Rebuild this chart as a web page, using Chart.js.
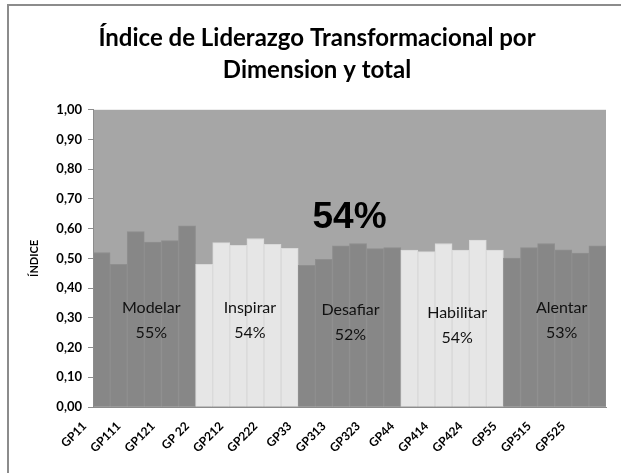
<!DOCTYPE html>
<html lang="es">
<head>
<meta charset="UTF-8">
<title>Índice de Liderazgo Transformacional</title>
<style>
body { margin: 0; background: #fff; }
#wrap { position: relative; width: 621px; height: 473px; overflow: hidden; }
#frame { position: absolute; left: 7px; top: 4px; width: 700px; height: 600px;
  border-left: 2px solid #8c8c8c; border-top: 2px solid #8c8c8c; }
canvas { position: absolute; left: 0; top: 0; }
</style>
<script src="https://cdn.jsdelivr.net/npm/chart.js@4/dist/chart.umd.min.js"></script>
</head>
<body>
<div id="wrap">
  <div id="frame"></div>
  <canvas id="chart" width="621" height="473"></canvas>
</div>
<script>
// item labels, 6 per dimension
const labels = [
  'GP11', 'GP16', 'GP111', 'GP116', 'GP121', 'GP126',
  'GP 22', 'GP27', 'GP212', 'GP217', 'GP222', 'GP227',
  'GP33', 'GP38', 'GP313', 'GP318', 'GP323', 'GP328',
  'GP44', 'GP49', 'GP414', 'GP419', 'GP424', 'GP429',
  'GP55', 'GP510', 'GP515', 'GP520', 'GP525', 'GP530'
];

// values
const modelar   = [0.52, 0.48, 0.59, 0.555, 0.56, 0.61];
const inspirar  = [0.48, 0.553, 0.544, 0.567, 0.547, 0.534];
const desafiar  = [0.477, 0.497, 0.542, 0.55, 0.533, 0.536];
const habilitar = [0.528, 0.523, 0.55, 0.528, 0.562, 0.528];
const alentar   = [0.501, 0.536, 0.55, 0.529, 0.518, 0.542];

const dimNames  = ['Modelar', 'Inspirar', 'Desafiar', 'Habilitar', 'Alentar'];
const dimScores = ['55%', '54%', '52%', '54%', '53%'];
const total = '54%';

const groups = [modelar, inspirar, desafiar, habilitar, alentar];
const groupColors = ['#878787', '#e6e6e6', '#878787', '#e6e6e6', '#878787'];
const groupBorders = ['#8f8f8f', '#d9d9d9', '#8f8f8f', '#d9d9d9', '#8f8f8f'];

const values = [];
const barColors = [];
const barBorders = [];
groups.forEach((g, i) => {
  g.forEach(v => {
    values.push(v);
    barColors.push(groupColors[i]);
    barBorders.push(groupBorders[i]);
  });
});

// gray plot background
const plotBg = {
  id: 'plotBg',
  beforeDraw(chart) {
    const a = chart.chartArea, ctx = chart.ctx;
    ctx.save();
    ctx.fillStyle = '#a6a6a6';
    ctx.fillRect(a.left, a.top, a.right - a.left, a.bottom - a.top);
    ctx.restore();
  }
};

// dimension names, scores and the total
const dimLabels = {
  id: 'dimLabels',
  afterDatasetsDraw(chart) {
    const ctx = chart.ctx, x = chart.scales.x, y = chart.scales.y;
    const levels = [0.335, 0.335, 0.328, 0.318, 0.335];
    const shift = [7, 3, 1, 5, 7];
    ctx.save();
    ctx.fillStyle = '#111';
    ctx.textAlign = 'center';
    ctx.textBaseline = 'middle';
    ctx.font = '16px Lato';
    dimNames.forEach((name, i) => {
      const cx = (x.getPixelForValue(i * 6) + x.getPixelForValue(i * 6 + 5)) / 2 + shift[i];
      const cy = y.getPixelForValue(levels[i]);
      ctx.fillText(name, cx, cy);
      ctx.fillText(dimScores[i], cx, cy + 25);
    });
    const tx = (x.getPixelForValue(14) + x.getPixelForValue(15)) / 2;
    ctx.fillStyle = '#000';
    ctx.font = 'bold 37px "Liberation Sans"';
    ctx.fillText(total, tx, y.getPixelForValue(0.635));
    ctx.restore();
  }
};

const ctx = document.getElementById('chart').getContext('2d');
new Chart(ctx, {
  type: 'bar',
  data: {
    labels: labels,
    datasets: [{
      data: values,
      backgroundColor: barColors,
      borderColor: barBorders,
      borderWidth: 1,
      borderSkipped: 'bottom',
      barPercentage: 1,
      categoryPercentage: 1
    }]
  },
  options: {
    responsive: false,
    animation: false,
    layout: { padding: { left: 28, right: 15, top: 0, bottom: 0 } },
    plugins: {
      legend: { display: false },
      tooltip: { enabled: false },
      title: {
        display: true,
        text: ['Índice de Liderazgo Transformacional por', 'Dimension y total'],
        color: '#000',
        font: { family: 'Lato', size: 24, weight: 'bold', lineHeight: 1.35 },
        padding: { top: 22, bottom: 23 }
      }
    },
    scales: {
      x: {
        grid: { display: false },
        border: { display: true, color: '#8c8c8c' },
        ticks: {
          autoSkip: false,
          minRotation: 45,
          maxRotation: 45,
          padding: 4,
          labelOffset: -17,
          color: '#000',
          font: { family: 'Lato', size: 12, weight: 'bold' },
          callback: (v, i) => (i % 2 === 0 ? labels[i] : '')
        },
        afterFit(s) { s.height = 66; }
      },
      y: {
        min: 0,
        max: 1,
        grid: { drawOnChartArea: false, drawTicks: true, tickLength: 5, color: '#8c8c8c' },
        border: { display: true, color: '#8c8c8c' },
        ticks: {
          stepSize: 0.1,
          padding: 6,
          color: '#000',
          font: { family: 'Lato', size: 13, weight: 'bold' },
          callback: v => v.toFixed(2).replace('.', ',')
        },
        title: {
          display: true,
          text: 'ÍNDICE',
          color: '#000',
          font: { family: 'Lato', size: 11, weight: 'bold' },
          padding: { top: 0, bottom: 0 }
        },
        afterFit(s) { s.width = 65; }
      }
    }
  },
  plugins: [plotBg, dimLabels]
});
</script>
</body>
</html>
